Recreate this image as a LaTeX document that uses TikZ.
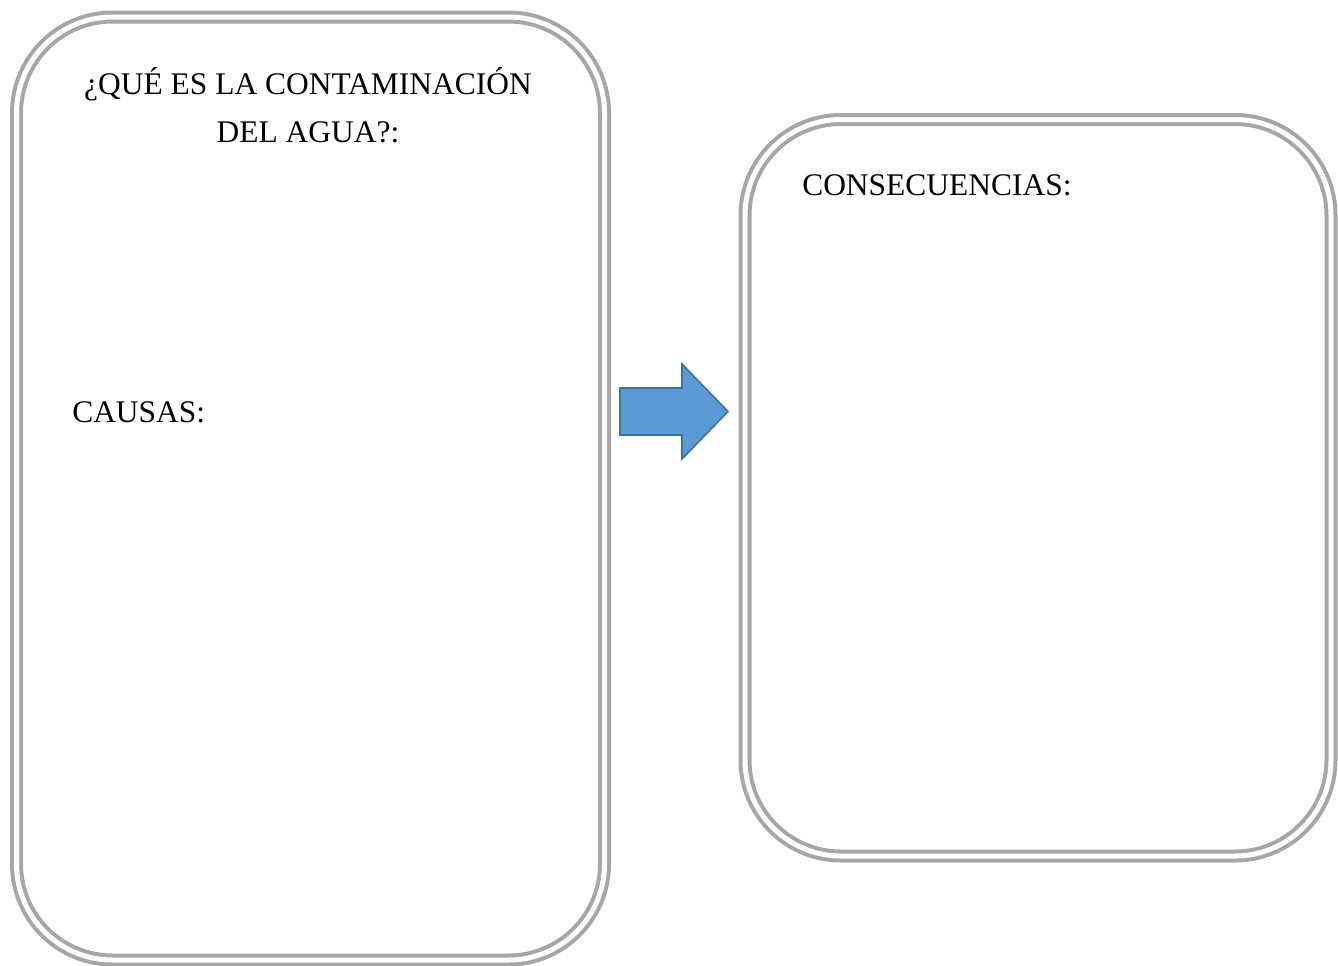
\documentclass[tikz,border=0pt]{standalone}
\usepackage{fontspec}
\setmainfont{Liberation Serif}
\definecolor{marco}{HTML}{A6A6A6}
\definecolor{flechaazul}{HTML}{5B9BD5}
\definecolor{flechaborde}{HTML}{41719C}
\begin{document}
\begin{tikzpicture}[x = 0.75pt, y = -0.75pt,
    panel/.style = {draw = marco, line width = 3pt, double = white,
                    double distance = 3.75pt, rounded corners = 72pt},
    rotulo/.style = {inner sep = 0pt, font = \fontsize{23.6}{36}\selectfont}]
    \useasboundingbox (0, 0) rectangle (1338, 965);
    \draw[panel] (16.5, 17) rectangle (604.5, 960);
    \draw[panel] (745, 119.5) rectangle (1331, 856);
    \draw[fill = flechaazul, draw = flechaborde, line width = 1.2pt]
       (620, 388) -- (682, 388) -- (682, 364) -- (728, 411.5)
       -- (682, 459) -- (682, 435) -- (620, 435) -- cycle;
    \node[rotulo, align = center, anchor = base] (titulo) at (308, 142)
       {¿QUÉ ES LA CONTAMINACIÓN\\DEL AGUA?:};
    \node[rotulo, anchor = base west] (causas) at (72, 422) {CAUSAS:};
    \node[rotulo, anchor = base west] (consec) at (802, 195) {CONSECUENCIAS:};
  \end{tikzpicture}
\end{document}
